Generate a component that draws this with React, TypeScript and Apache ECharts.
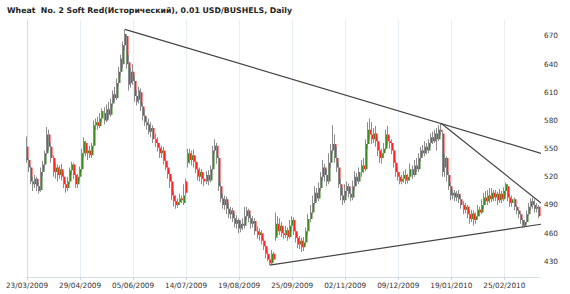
import React, { useEffect, useRef } from "react";
import * as echarts from "echarts";

const TITLE = "Wheat  No. 2 Soft Red(Исторический), 0.01 USD/BUSHELS, Daily";
const FIRST_DAY = "2009-03-23";
const LAST_DAY = "2010-03-22";
const HOLIDAYS = ["2009-04-10", "2009-05-25", "2009-07-03", "2009-09-07", "2009-11-26", "2009-12-25", "2010-01-01", "2010-01-18", "2010-02-15"];
const Y_TICKS = [430, 460, 490, 520, 550, 580, 610, 640, 670];

const OPENS = [
  552, 538, 530, 515, 512, 518, 510, 506, 525, 533,
  545, 565, 552, 540, 525, 530, 522, 528, 520, 512,
  508, 515, 527, 533, 522, 512, 520, 528, 545, 556,
  545, 548, 543, 553, 575, 578, 574, 582, 588, 580,
  592, 586, 598, 608, 604, 620, 632, 640, 660, 670,
  642, 620, 632, 622, 606, 602, 610, 595, 585, 578,
  576, 568, 572, 560, 556, 551, 545, 548, 537, 530,
  523, 515, 500, 494, 490, 493, 497, 492, 515, 535,
  545, 538, 543, 536, 528, 520, 525, 518, 515, 522,
  516, 528, 548, 553, 540, 510, 497, 490, 496, 486,
  480, 484, 476, 470, 474, 465, 470, 468, 478, 484,
  476, 470, 473, 462, 458, 460, 452, 446, 438, 432,
  428, 438, 455, 470, 462, 468, 460, 458, 463, 456,
  468, 474, 462, 455, 448, 452, 445, 450, 462, 475,
  482, 492, 503, 497, 508, 520, 530, 522, 515, 535,
  548, 555, 540, 530, 512, 500, 495, 505, 510, 502,
  498, 510, 520, 515, 525, 532, 528, 555, 570, 565,
  560, 566, 558, 548, 540, 545, 550, 565, 558, 556,
  548, 535, 525, 520, 515, 518, 522, 516, 520, 528,
  522, 532, 528, 540, 548, 545, 552, 548, 556, 562,
  558, 566, 560, 570, 566, 530, 540, 522, 510, 500,
  503, 498, 502, 496, 490, 485, 488, 480, 475, 481,
  474, 478, 485, 482, 490, 498, 494, 500, 496, 503,
  498, 502, 495, 502, 496, 505, 510, 498, 492, 496,
  488, 484, 480, 474, 468, 472, 480, 488, 494, 490,
  486, 488,
];

const CLOSES = [
  538, 530, 515, 512, 518, 510, 505, 525, 533, 545,
  565, 552, 540, 525, 530, 522, 528, 520, 512, 508,
  515, 527, 533, 522, 512, 520, 528, 545, 558, 545,
  548, 543, 553, 575, 578, 574, 582, 590, 580, 592,
  586, 598, 608, 604, 620, 632, 646, 660, 672, 640,
  618, 632, 622, 606, 600, 612, 595, 585, 578, 575,
  568, 572, 560, 556, 551, 545, 548, 537, 530, 523,
  515, 500, 494, 490, 493, 497, 495, 500, 503, 545,
  538, 543, 536, 528, 520, 525, 518, 515, 522, 516,
  528, 548, 553, 540, 510, 497, 490, 496, 486, 480,
  484, 476, 470, 474, 465, 470, 468, 478, 484, 476,
  470, 473, 462, 458, 461, 452, 446, 438, 432, 428,
  438, 432, 470, 462, 468, 460, 458, 463, 456, 468,
  474, 462, 455, 448, 452, 445, 450, 462, 475, 482,
  492, 503, 497, 508, 520, 530, 522, 515, 535, 548,
  555, 540, 530, 512, 500, 495, 505, 510, 502, 498,
  510, 520, 515, 525, 532, 528, 555, 570, 565, 560,
  566, 558, 548, 540, 545, 550, 565, 558, 556, 548,
  535, 525, 520, 515, 518, 522, 516, 520, 528, 522,
  532, 528, 540, 548, 545, 552, 548, 556, 562, 558,
  566, 560, 570, 568, 525, 540, 522, 510, 500, 503,
  498, 502, 496, 490, 485, 488, 480, 475, 481, 474,
  478, 485, 482, 490, 498, 494, 500, 496, 503, 498,
  502, 495, 502, 496, 505, 512, 498, 492, 496, 488,
  484, 480, 474, 468, 472, 480, 488, 494, 490, 486,
  488, 478,
];

const LOWS = [
  535, 525, 512, 505, 508, 505, 502, 504, 520, 528,
  543, 548, 535, 520, 518, 515, 518, 516, 508, 503,
  505, 512, 522, 518, 508, 508, 516, 525, 540, 542,
  538, 540, 540, 552, 570, 570, 572, 578, 576, 578,
  582, 584, 595, 600, 602, 616, 628, 636, 655, 635,
  612, 615, 618, 600, 596, 598, 590, 580, 574, 570,
  565, 562, 556, 552, 547, 540, 540, 533, 527, 518,
  508, 495, 488, 486, 487, 490, 492, 490, 500, 530,
  534, 532, 530, 524, 516, 515, 512, 510, 512, 511,
  514, 526, 545, 534, 505, 493, 486, 485, 480, 476,
  475, 472, 466, 465, 460, 461, 463, 465, 474, 472,
  465, 466, 458, 454, 452, 448, 442, 433, 430, 426,
  427, 430, 452, 458, 458, 456, 454, 455, 452, 454,
  462, 458, 450, 444, 443, 440, 441, 447, 458, 472,
  480, 490, 494, 494, 505, 516, 515, 510, 512, 530,
  545, 535, 525, 508, 495, 490, 492, 500, 498, 494,
  495, 506, 510, 512, 520, 524, 526, 550, 560, 555,
  556, 552, 542, 535, 534, 540, 548, 554, 550, 544,
  530, 520, 516, 512, 512, 514, 512, 513, 516, 518,
  520, 525, 525, 536, 542, 542, 544, 545, 552, 555,
  556, 548, 558, 564, 520, 520, 515, 506, 495, 496,
  494, 494, 492, 486, 480, 481, 476, 470, 472, 468,
  470, 475, 478, 480, 486, 490, 490, 492, 493, 494,
  494, 490, 492, 492, 494, 500, 494, 488, 488, 484,
  480, 476, 470, 466, 466, 470, 478, 484, 486, 482,
  482, 476,
];

const HIGHS = [
  563, 540, 532, 520, 522, 520, 515, 530, 537, 548,
  573, 570, 556, 543, 535, 533, 532, 534, 525, 516,
  520, 530, 536, 535, 524, 523, 531, 550, 562, 558,
  552, 553, 556, 580, 582, 584, 588, 593, 594, 597,
  600, 603, 612, 616, 625, 637, 650, 664, 677, 671,
  650, 636, 640, 628, 612, 616, 614, 599, 592, 584,
  582, 578, 575, 566, 562, 556, 553, 552, 545, 536,
  527, 520, 505, 500, 497, 502, 500, 512, 518, 550,
  550, 548, 549, 542, 534, 530, 528, 524, 526, 527,
  532, 553, 560, 556, 542, 514, 502, 500, 499, 492,
  488, 487, 481, 479, 476, 474, 476, 488, 488, 486,
  480, 478, 476, 467, 465, 463, 455, 448, 442, 436,
  442, 440, 482, 478, 476, 472, 465, 468, 466, 474,
  478, 477, 466, 460, 457, 455, 456, 466, 480, 490,
  500, 510, 508, 514, 525, 538, 534, 528, 545, 555,
  575, 565, 552, 535, 518, 508, 512, 515, 513, 508,
  516, 526, 524, 530, 538, 540, 560, 578, 582, 578,
  572, 574, 562, 552, 550, 556, 570, 574, 564, 560,
  550, 538, 530, 524, 522, 526, 528, 523, 534, 532,
  538, 540, 545, 552, 554, 558, 556, 560, 566, 568,
  570, 572, 575, 577, 568, 545, 542, 525, 514, 506,
  506, 505, 506, 500, 494, 492, 490, 484, 485, 484,
  482, 490, 488, 496, 503, 505, 506, 508, 508, 506,
  506, 504, 507, 505, 509, 514, 512, 502, 500, 498,
  490, 486, 482, 476, 474, 484, 492, 497, 498, 496,
  492, 490,
];

const TREND_UPPER = [[48, 677], [252, 545]];
const TREND_MID = [[203, 577], [252, 492]];
const TREND_LOW = [[119, 426], [252, 469.5]];

function tradingDays(): string[] {
  const out: string[] = [];
  const d = new Date(FIRST_DAY + "T00:00:00Z");
  const end = new Date(LAST_DAY + "T00:00:00Z");
  while (d <= end) {
    const iso = d.toISOString().slice(0, 10);
    const wd = d.getUTCDay();
    if (wd !== 0 && wd !== 6 && !HOLIDAYS.includes(iso)) {
      out.push(iso.slice(8, 10) + "/" + iso.slice(5, 7) + "/" + iso.slice(0, 4));
    }
    d.setUTCDate(d.getUTCDate() + 1);
  }
  return out;
}

const FONT = "DejaVu Sans";
const GREEN = "#3b8a1e";
const RED = "#ff2222";
const WICK = "#8c8c8c";

export default function App() {
  const ref = useRef<HTMLDivElement>(null);
  useEffect(() => {
    if (!ref.current) return;
    const chart = echarts.init(ref.current, undefined, { renderer: "svg" });
    const dates = tradingDays();
    const data = OPENS.map((o, i) => {
      const c = CLOSES[i];
      return [i, o, c, Math.min(LOWS[i], o, c), Math.max(HIGHS[i], o, c)];
    });
    const trendStyle = { color: "#444444", width: 1.2 };
    chart.setOption({
      animation: false,
      backgroundColor: "#ffffff",
      title: {
        text: TITLE,
        left: 2,
        top: 1,
        textStyle: { fontFamily: FONT, fontSize: 7.8, fontWeight: "bold", color: "#222" },
      },
      grid: { left: 27, right: 31, top: 20, bottom: 17 },
      xAxis: [
        {
          type: "category",
          data: dates,
          boundaryGap: false,
          axisLine: { lineStyle: { color: "#d3dde8" } },
          axisTick: { interval: 25, length: 3, lineStyle: { color: "#c8d4e0" } },
          axisLabel: { interval: 25, fontFamily: FONT, fontSize: 7.3, color: "#333", margin: 5 },
          splitLine: { show: true, interval: 25, lineStyle: { color: "#e6eef6", width: 1 } },
        },
        { type: "value", min: 0, max: 251, show: false },
      ],
      yAxis: {
        type: "value",
        position: "right",
        min: 413.3,
        max: 687,
        scale: true,
        axisLine: { show: true, lineStyle: { color: "#d3dde8" } },
        axisTick: { show: false },
        splitLine: { show: false },
        axisLabel: {
          customValues: Y_TICKS,
          fontFamily: FONT,
          fontSize: 7.3,
          color: "#333",
          margin: 5,
          formatter: (v: number) => String(Math.round(v)),
        },
      },
      series: [
        {
          type: "custom",
          xAxisIndex: 0,
          data,
          encode: { x: 0, y: [1, 2, 3, 4] },
          renderItem: (params: any, api: any) => {
            const i = api.value(0);
            const o = api.value(1);
            const c = api.value(2);
            const l = api.value(3);
            const h = api.value(4);
            const pO = api.coord([i, o]);
            const pC = api.coord([i, c]);
            const pL = api.coord([i, l]);
            const pH = api.coord([i, h]);
            const x = Math.round(pO[0]);
            const top = Math.min(pO[1], pC[1]);
            const bh = Math.max(1, Math.abs(pO[1] - pC[1]));
            return {
              type: "group",
              children: [
                { type: "rect", shape: { x: x - 1, y: pH[1], width: 1, height: Math.max(1, pL[1] - pH[1]) }, style: { fill: WICK } },
                { type: "rect", shape: { x: x, y: top, width: 1.5, height: bh }, style: { fill: c >= o ? GREEN : RED } },
              ],
            };
          },
        },
        { type: "line", xAxisIndex: 1, data: TREND_UPPER, symbol: "none", clip: false, lineStyle: trendStyle },
        { type: "line", xAxisIndex: 1, data: TREND_MID, symbol: "none", clip: false, lineStyle: trendStyle },
        { type: "line", xAxisIndex: 1, data: TREND_LOW, symbol: "none", clip: false, lineStyle: trendStyle },
      ],
    });
    return () => chart.dispose();
  }, []);
  return <div ref={ref} style={{ position: "fixed", left: 0, top: 0, width: 570, height: 294 }} />;
}
